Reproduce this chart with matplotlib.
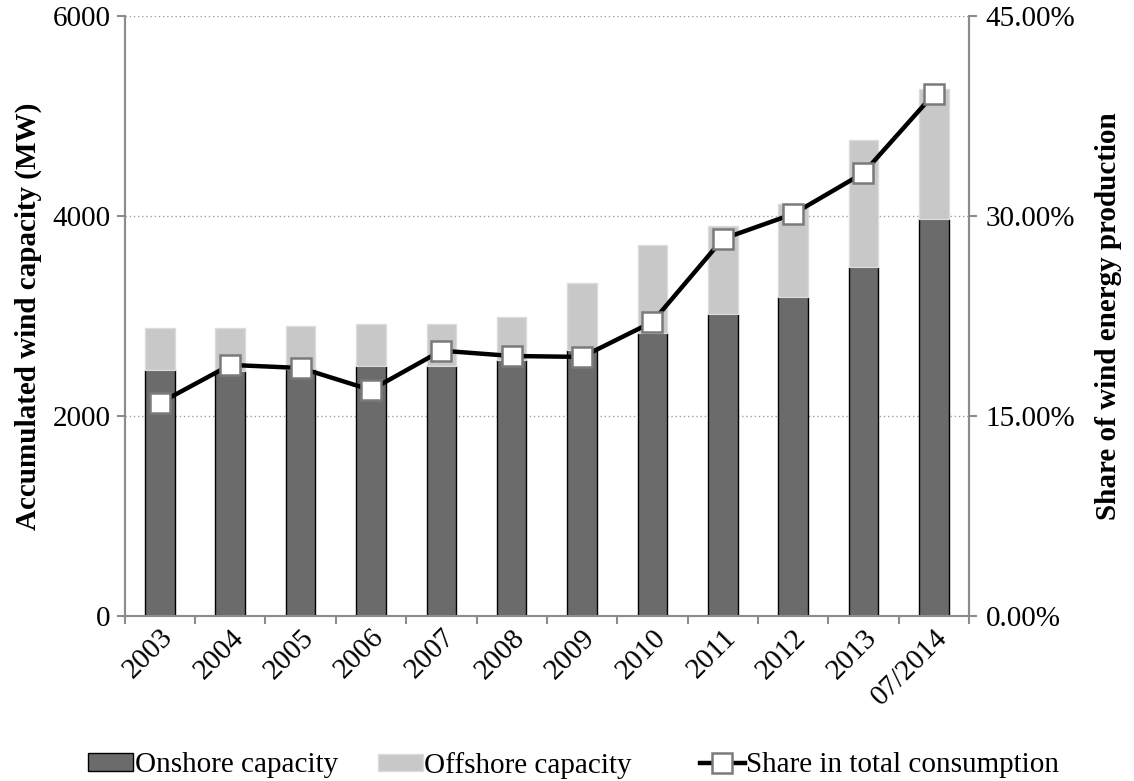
import numpy as np
import matplotlib
matplotlib.use("Agg")
import matplotlib.pyplot as plt
from matplotlib.patches import Patch
from matplotlib.lines import Line2D
from matplotlib.ticker import FuncFormatter

plt.rcParams["font.family"] = ["Liberation Serif", "DejaVu Serif"]

# data
years = ["2003", "2004", "2005", "2006", "2007", "2008",
         "2009", "2010", "2011", "2012", "2013", "07/2014"]
onshore = [2460, 2450, 2470, 2500, 2500, 2560, 2660, 2830, 3020, 3190, 3490, 3970]
total = [2880, 2880, 2900, 2920, 2920, 2990, 3330, 3710, 3900, 4120, 4760, 5270]
offshore = [t - o for t, o in zip(total, onshore)]
share = [15.98, 18.83, 18.6, 16.95, 19.9, 19.5, 19.43, 22.05, 28.28, 30.15, 33.23, 39.15]

spine_col = "#8c8c8c"
fs = 21

fig = plt.figure(figsize=(11.34, 7.81), dpi=100)
ax = fig.add_axes([0.110, 0.2113, 0.7445, 0.7682])
x = np.arange(len(years))
w = 0.42

ax.bar(x, onshore, w, color="#6b6b6b", edgecolor="black", linewidth=1.0, zorder=2)
ax.bar(x, offshore, w, bottom=onshore, color="#c8c8c8", edgecolor="#dcdcdc",
       linewidth=1.0, zorder=2)

ax.set_xlim(-0.5, len(years) - 0.5)
ax.set_ylim(0, 6000)
ax.set_yticks([0, 2000, 4000, 6000])
ax.yaxis.grid(True, linestyle=(0, (1, 2)), color="#a0a0a0", linewidth=1.0, zorder=0)
ax.set_axisbelow(True)

ax.set_xticks(x)
ax.set_xticklabels(years, rotation=45, ha="right", va="top", rotation_mode="anchor")
ax.set_xticks(np.arange(-0.5, len(years)), minor=True)
ax.tick_params(axis="x", which="major", length=0, pad=6, labelsize=fs)
ax.tick_params(axis="x", which="minor", length=6, color=spine_col, width=1.5)
ax.tick_params(axis="y", length=6, color=spine_col, width=1.5, labelsize=fs, pad=4)

for s in ["left", "bottom", "right"]:
    ax.spines[s].set_color(spine_col)
    ax.spines[s].set_linewidth(1.5)
ax.spines["top"].set_visible(False)

ax.set_ylabel("Accumulated wind capacity (MW)", fontsize=fs, fontweight="bold", labelpad=8)

ax2 = ax.twinx()
ax2.plot(x, share, color="black", linewidth=3.2, marker="s", markersize=14,
         markerfacecolor="white", markeredgecolor="#7a7a7a", markeredgewidth=1.8, zorder=5)
ax2.set_ylim(0, 45)
ax2.set_yticks([0, 15, 30, 45])
ax2.yaxis.set_major_formatter(FuncFormatter(lambda v, p: "%.2f%%" % v))
ax2.tick_params(axis="y", length=6, color=spine_col, width=1.5, labelsize=fs, pad=6)
for s in ["left", "bottom", "right"]:
    ax2.spines[s].set_color(spine_col)
    ax2.spines[s].set_linewidth(1.5)
ax2.spines["top"].set_visible(False)
ax2.set_ylabel("Share of wind energy production", fontsize=fs, fontweight="bold", labelpad=14)

handles = [
    Patch(facecolor="#6b6b6b", edgecolor="black", linewidth=1.0),
    Patch(facecolor="#c8c8c8", edgecolor="#dcdcdc", linewidth=1.0),
    Line2D([0], [0], color="black", linewidth=3.2, marker="s", markersize=14,
           markerfacecolor="white", markeredgecolor="#7a7a7a", markeredgewidth=1.8),
]
labels = ["Onshore capacity", "Offshore capacity", "Share in total consumption"]
lx = [0.0776, 0.333, 0.617]
for h, lab, xx in zip(handles, labels, lx):
    fig.legend([h], [lab], loc="center left", bbox_to_anchor=(xx, 0.02),
               frameon=False, fontsize=fs, handlelength=1.55, handletextpad=0.05,
               handleheight=0.55, borderpad=0, borderaxespad=0)

fig.savefig("out.png", dpi=100)
